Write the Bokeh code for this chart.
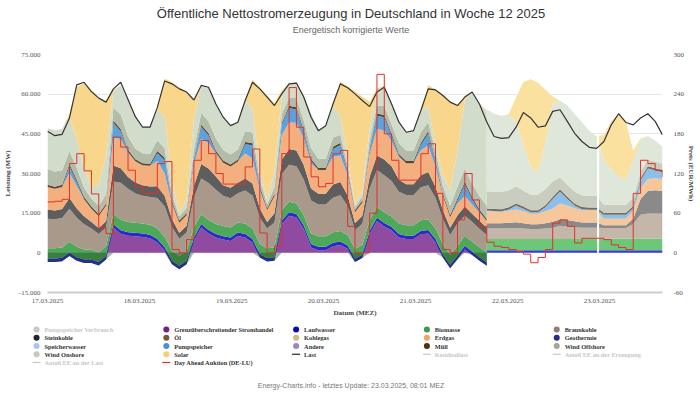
import numpy as np
from bokeh.plotting import figure
from bokeh.models import Range1d, FixedTicker
from bokeh.embed import file_html
from bokeh.resources import INLINE
from bokeh.core.properties import value

# ---------------- data (MW) ----------------
hours_actual = list(range(0, 121, 2))      # 17.03 00:00 .. 22.03 00:00
hours_forecast = list(range(120, 169, 2))  # 22.03 00:00 .. 24.03 00:00
hours_all = list(range(0, 169, 2))

trade = [-3500, -3500, -3200, -1200, -3000, -3800, -3800, -4800, -2500, 9500, 7200, 6500,
         6300, 6000, 5500, 3900, 800, -4300, -6200, -4300, 4500, 9600, 7300, 5800,
         5000, 4500, 6400, 5800, 3900, -1800, -3300, -3000, 10900, 14000, 13400, 9000,
         2000, 1000, 1000, 2500, 3000, 1500, -3500, -2000, 7000, 12000, 10000, 8500,
         5800, 5200, 5200, 7000, 7300, 3900, -1800, -5800, -2400, 1400, -800, -3000,
         -4900]
laufwasser = [1300, 1300, 1300, 1300, 1300, 1300, 1300, 1300, 1300, 1300, 1300, 1300,
              1300, 1300, 1300, 1300, 1300, 1300, 1300, 1300, 1300, 1300, 1300, 1300,
              1300, 1300, 1300, 1300, 1300, 1300, 1300, 1300, 1300, 1300, 1300, 1300,
              1300, 1300, 1300, 1300, 1300, 1300, 1300, 1300, 1300, 1300, 1300, 1300,
              1300, 1300, 1300, 1300, 1300, 1300, 1300, 1300, 1300, 1300, 1300, 1300,
              1300]
biomasse = [3900, 3900, 3900, 4100, 4000, 3800, 3700, 3600, 3800, 4000, 4000, 3900,
            3800, 3800, 3800, 4000, 4000, 3800, 3700, 3700, 4000, 3700, 3800, 3800,
            3800, 3800, 3800, 4000, 4000, 3800, 3700, 3700, 4000, 4000, 4000, 3900,
            4000, 4000, 4000, 4000, 4000, 3900, 3700, 3700, 4000, 4000, 4000, 3900,
            4000, 3900, 3900, 4000, 4000, 4000, 3800, 3700, 3800, 3800, 3800, 3800,
            3800]
braunkohle = [11200, 11000, 11200, 12500, 11000, 9500, 8000, 7000, 7000, 12200, 14000, 12500,
              11000, 10500, 10500, 11500, 11500, 9000, 6500, 7000, 11000, 13500, 14000, 13000,
              11500, 11000, 11000, 12500, 12500, 10000, 7500, 9500, 13500, 14000, 14000, 13500,
              12500, 12000, 12000, 13000, 13500, 11000, 7000, 8000, 12000, 14000, 14000, 13500,
              12000, 11500, 11500, 12500, 13000, 11500, 9500, 7500, 8500, 7500, 7500, 7000,
              6500]
steinkohle = [3500, 3300, 3400, 4000, 3500, 3000, 2500, 2300, 2300, 6000, 5500, 4500,
              4200, 4000, 4000, 4500, 4000, 3000, 2300, 2500, 4500, 5500, 5500, 5000,
              4000, 4000, 4000, 4500, 4500, 3500, 2500, 3500, 5500, 6000, 6000, 5500,
              4500, 4000, 4000, 5000, 5000, 4000, 2800, 3000, 4500, 5500, 6000, 5500,
              4500, 4000, 4000, 4500, 5000, 4300, 3300, 2800, 3000, 3500, 3000, 3000,
              2800]
erdgas = [8500, 8200, 8300, 9500, 8500, 6500, 5000, 4500, 6000, 10400, 11000, 9000,
          8000, 7500, 7800, 9500, 8500, 5500, 3800, 4000, 8000, 9500, 9500, 8500,
          8500, 8000, 8000, 9500, 9500, 6500, 4500, 6500, 9500, 10000, 10500, 10000,
          9500, 9000, 9000, 10500, 10000, 7500, 4000, 5000, 8500, 10000, 11000, 9500,
          8500, 8000, 8000, 9500, 10000, 7500, 5500, 4000, 4500, 4000, 3500, 3000,
          2500]
pumpspeicher = [0, 0, 0, 2500, 1500, 0, 0, 0, 0, 5800, 3000, 500,
                0, 0, 0, 3000, 5000, 500, 0, 0, 1500, 4500, 3000, 500,
                0, 0, 0, 3500, 5000, 1000, 0, 0, 3500, 5500, 5000, 2500,
                1000, 0, 0, 3000, 4000, 1000, 0, 0, 1500, 5000, 5000, 2000,
                500, 0, 0, 2000, 4500, 2000, 0, 0, 1000, 4500, 2000, 500,
                0]
muell = [800, 800, 800, 850, 850, 800, 800, 800, 800, 850, 850, 800,
         800, 800, 800, 850, 850, 800, 800, 800, 800, 850, 850, 800,
         800, 800, 800, 850, 850, 800, 800, 800, 800, 850, 850, 800,
         800, 800, 800, 850, 850, 800, 800, 800, 800, 850, 850, 800,
         800, 800, 800, 850, 850, 800, 800, 800, 800, 850, 850, 800,
         800]
wind_offshore = [6000, 5800, 5500, 5000, 4500, 3500, 3000, 3000, 3500, 4900, 5500, 5000,
                 4000, 3800, 3800, 4000, 3500, 2500, 1500, 2000, 3500, 4500, 4500, 4500,
                 4000, 3800, 3800, 4000, 4000, 2500, 1500, 2500, 3500, 3000, 3500, 3500,
                 4000, 3500, 3500, 3500, 3000, 2000, 1200, 1500, 3000, 3000, 3500, 3500,
                 4000, 4000, 4000, 4000, 3500, 3000, 3000, 3500, 4500, 5000, 5000, 5000,
                 5000]
wind_onshore = [15400, 15600, 15600, 13000, 10500, 8000, 4500, 8000, 14000, 6300, 11000, 13800,
                12500, 10000, 10500, 11500, 12000, 5000, 1500, 3000, 11500, 10000, 13000, 13000,
                12500, 11000, 10300, 11500, 9000, 4000, 1500, 6000, 7000, 5500, 6000, 9500,
                13000, 11000, 12500, 12000, 7000, 3500, 1000, 2000, 4500, 5500, 7500, 8000,
                8500, 7000, 7500, 8000, 6000, 2500, 4000, 6000, 14000, 26000, 34500, 35000,
                36000]
solar = [0, 0, 0, 1000, 20000, 31500, 36000, 32500, 21000, 500, 0, 0,
         0, 0, 0, 500, 14500, 37400, 47300, 41000, 7000, 0, 0, 0,
         0, 0, 0, 500, 11000, 30900, 39500, 25700, 2000, 0, 0, 0,
         0, 0, 0, 1500, 13000, 26500, 42700, 35700, 10000, 1000, 0, 0,
         0, 0, 0, 500, 8000, 21000, 30500, 33500, 17000, 1000, 0, 0,
         0]

# forecast part (22.03 / 23.03)
laufwasser_fc = [1000, 1000, 1000, 1000, 1000, 1000, 1000, 1000, 1000, 1000, 1000, 1000, 1000,
                 1000, 1000, 1000, 1000, 1000, 1000, 1000, 1000, 1000, 1000, 1000, 1000]
biomasse_fc = [4200, 4200, 4200, 4200, 4200, 4200, 4200, 4200, 4200, 4200, 4200, 4200, 4200,
               4200, 4200, 4200, 4400, 4400, 4400, 4400, 4400, 4400, 4400, 4400, 4400]
braunkohle_fc = [4000, 4000, 4000, 4100, 4200, 4000, 3800, 3800, 4000, 4300, 5000, 4800, 4500,
                 4300, 4300, 4300, 4000, 4000, 4000, 4000, 5500, 9000, 9500, 9500, 9500]
steinkohle_fc = [2000, 2000, 2000, 2100, 2200, 2000, 1800, 1800, 2000, 2300, 2500, 2400, 2200,
                 2000, 2000, 2000, 1000, 1000, 1000, 1000, 2000, 6000, 8500, 8800, 8500]
erdgas_fc = [4500, 4300, 4200, 4500, 4800, 4500, 4000, 4000, 4500, 5000, 6000, 5500, 5000,
             4500, 4500, 4500, 2500, 2500, 2500, 2500, 3000, 4000, 4500, 4500, 4500]
pumpspeicher_fc = [300, 300, 300, 500, 1500, 1000, 500, 500, 1500, 3500, 4500, 2500, 1000,
                   500, 300, 300, 1500, 1500, 1500, 1500, 1000, 3000, 4000, 3000, 2500]
muell_fc = [800, 800, 800, 800, 800, 800, 800, 800, 800, 800, 800, 800, 800,
            800, 800, 800, 800, 800, 800, 800, 800, 800, 800, 800, 800]
wind_offshore_fc = [6500, 6500, 6500, 6500, 6500, 6000, 6000, 6000, 6000, 6000, 4500, 4500, 4500,
                    4500, 4500, 4500, 3000, 3000, 3000, 3000, 3000, 2500, 2500, 2500, 2500]
wind_onshore_fc = [31000, 29500, 28800, 28500, 24500, 17900, 10400, 8500, 17700, 29500, 29000, 30000, 29300,
                   27600, 24600, 22400, 17100, 13300, 10700, 9500, 14000, 12000, 9000, 8000, 6500]
solar_fc = [0, 0, 0, 300, 9000, 23200, 33100, 33700, 20000, 2500, 0, 0, 0,
            0, 0, 0, 9400, 18300, 23400, 22100, 4000, 500, 0, 0, 0]

last = [46000, 44300, 44800, 51000, 63500, 64500, 61000, 58500, 57000, 62000, 64500, 58000,
        51500, 47500, 47500, 55000, 65000, 63900, 62000, 60800, 57800, 63300, 62600, 56300,
        51300, 48100, 49400, 57600, 64500, 62000, 58900, 55700, 60100, 63900, 64200, 58900,
        51300, 46200, 48100, 56300, 63900, 62400, 60100, 57600, 55300, 60800, 62600, 56300,
        49400, 45600, 46200, 53800, 62000, 61600, 59500, 57000, 55700, 58900, 60800, 56300,
        49500,
        44000, 43300, 43600, 47500, 53100, 51000, 47500, 48000, 53500, 54100, 49700, 45200,
        42100, 39900, 39500, 42100, 48400, 52600, 49300, 48400, 51000, 52600, 49700, 44600]

price = [77, 78, 81, 135, 150, 124, 89, 38, 29, 175, 160, 125,
         100, 90, 90, 135, 138, 5, 0, 20, 140, 170, 150, 120,
         104, 104, 104, 130, 157, 30, 0, 10, 150, 250, 190, 145,
         115, 100, 105, 150, 155, 40, 0, 0, 60, 270, 180, 140,
         110, 110, 110, 150, 165, 90, 5, 0, 50, 120, 80, 40,
         16,
         10, 8, 5, 2, -2, -15, -7, 5, 45, 50, 40, 15,
         22, 22, 22, 20, 12, 8, 5, 90, 140, 135, 125, 115]

mw_ticks = [-15000, 0, 15000, 30000, 45000, 60000, 75000]
mw_labels = ["-15.000", "0", "15.000", "30.000", "45.000", "60.000", "75.000"]
price_ticks = [-60, 0, 60, 120, 180, 240, 300]
price_labels = ["-60", "0", "60", "120", "180", "240", "300"]
day_ticks = [0, 25.1, 50.3, 75.4, 100.5, 125.7, 150.8]
day_labels = ["17.03.2025", "18.03.2025", "19.03.2025", "20.03.2025",
              "21.03.2025", "22.03.2025", "23.03.2025"]
forecast_break = 150.4

legend_names = ["Pumpspeicher Verbrauch", "Grenzüberschreitender Stromhandel", "Laufwasser", "Biomasse",
                "Braunkohle", "Steinkohle", "Öl", "Kohlegas", "Erdgas", "Geothermie",
                "Speicherwasser", "Pumpspeicher", "Andere", "Müll", "Wind Offshore",
                "Wind Onshore", "Solar", "Last", "Residuallast", "Anteil EE an der Erzeugung",
                "Anteil EE an der Last", "Day Ahead Auktion (DE-LU)"]
legend_colors = ["#c8c8c8", "#74207e", "#0a0ab4", "#3d9a48", "#8f7f70",
                 "#262626", "#755838", "#d2b77f", "#f2a264", "#2d2a88",
                 "#a9c1f4", "#4c8fd6", "#9a86c4", "#4a3216", "#a2a699",
                 "#c4c9bd", "#f7ce74", "#222222", "#c8c8c8", "#c8c8c8",
                 "#c8c8c8", "#d9322b"]
legend_is_line = [False] * 17 + [True] * 5
legend_hidden = [True] + [False] * 17 + [True, True, True, False]

# ---------------- styles ----------------
actual_colors = ["#2a2ac8", "#4ea85a", "#a8998a", "#5e5e5e", "#f3b07e",
                 "#5aa3df", "#5b4632", "#b3bba9", "#d2dccb", "#f8d68c"]
forecast_colors = ["#3c3cd6", "#6cc878", "#c4b6a8", "#8a8a8a", "#f6c79a",
                   "#8cc0ea", "#7a6a58", "#c8cdc0", "#dfe7da", "#fae1a0"]
SERIF = "Liberation Serif"
SANS = "Liberation Sans"

p = figure(width=700, height=393, x_range=Range1d(0, 168), y_range=Range1d(-15000, 75000),
           toolbar_location=None, output_backend="svg",
           min_border_left=46, min_border_right=38, min_border_top=54, min_border_bottom=101)
p.outline_line_color = None
# page-pixel helper ranges (frame spans x 46..662, y 54..292 of the page)
p.extra_y_ranges = {"price": Range1d(-60, 300), "py": Range1d(292, 54)}
p.extra_x_ranges = {"px": Range1d(46, 662)}

# actual stacked areas: stack starts at the trade value
p.varea(x=hours_actual, y1=np.zeros(len(trade)), y2=np.maximum(np.array(trade, float), 0),
        fill_color="#8e4ba0")
lower = np.array(trade, float)
for vals, col in zip([laufwasser, biomasse, braunkohle, steinkohle, erdgas, pumpspeicher,
                      muell, wind_offshore, wind_onshore, solar], actual_colors):
    upper = lower + np.array(vals, float)
    p.varea(x=hours_actual, y1=lower, y2=upper, fill_color=col)
    lower = upper
p.varea(x=hours_actual, y1=np.minimum(np.array(trade, float), 0), y2=np.zeros(len(trade)),
        fill_color="#1e3a1e", fill_alpha=0.38)

# forecast stacked areas
lower = np.zeros(len(hours_forecast))
for vals, col in zip([laufwasser_fc, biomasse_fc, braunkohle_fc, steinkohle_fc, erdgas_fc,
                      pumpspeicher_fc, muell_fc, wind_offshore_fc, wind_onshore_fc, solar_fc],
                     forecast_colors):
    upper = lower + np.array(vals, float)
    p.varea(x=hours_forecast, y1=lower, y2=upper, fill_color=col)
    lower = upper
gap_top = float(np.interp(forecast_break, hours_forecast, lower))
p.segment(x0=[forecast_break], y0=[0], x1=[forecast_break], y1=[gap_top],
          line_color="white", line_width=2)

p.line(hours_all, last, line_color="#333333", line_width=1.2)
p.step(hours_all, price, mode="after", y_range_name="price", line_color="#e0312a", line_width=1)

# axes
p.xaxis.ticker = FixedTicker(ticks=day_ticks)
p.xaxis.major_label_overrides = dict(zip(day_ticks, day_labels))
p.xaxis.axis_label = "Datum (MEZ)"
p.xaxis.axis_line_color = "#cccccc"
p.xaxis.axis_line_width = 2
p.xaxis.major_label_standoff = 6
p.xaxis.axis_label_standoff = 3

p.yaxis.ticker = FixedTicker(ticks=mw_ticks)
p.yaxis.major_label_overrides = dict(zip(mw_ticks, mw_labels))
p.yaxis.axis_label = "Leistung (MW)"
p.yaxis.axis_line_color = None
p.yaxis.major_label_standoff = 7
p.yaxis.axis_label_standoff = 4

for ax in p.axis:
    ax.major_tick_line_color = None
    ax.minor_tick_line_color = None
    ax.major_tick_out = 0
    ax.major_tick_in = 0
    ax.minor_tick_out = 0
    ax.minor_tick_in = 0
    ax.major_label_text_font = SERIF
    ax.major_label_text_font_size = "7px"
    ax.major_label_text_color = "#555555"
    ax.axis_label_text_font = SERIF
    ax.axis_label_text_font_size = "7px"
    ax.axis_label_text_font_style = "bold"
    ax.axis_label_text_color = "#444444"

p.xgrid.grid_line_color = None
p.ygrid.ticker = FixedTicker(ticks=mw_ticks)
p.ygrid.grid_line_color = "#e6e6e6"

# ---------------- price axis labels (placed through the price scale) ----------------
TXT = dict(x_range_name="px", y_range_name="py", level="overlay")
p.text(x=[673] * len(price_ticks), y=price_ticks, text=price_labels, x_range_name="px",
       y_range_name="price", level="overlay", text_align="left", text_baseline="middle",
       text_font=value(SERIF), text_font_size="7px", text_color="#555555")
p.text(x=[691], y=[173], text=["Preis (EUR/MWh)"], angle=-np.pi / 2,
       text_align="center", text_baseline="middle", text_font=value(SERIF),
       text_font_size="7px", text_font_style="bold", text_color="#444444", **TXT)

# ---------------- title, legend, footer (page-pixel positions, drawn above the frame clip) ----------------
p.text(x=[350], y=[13], text=["Öffentliche Nettostromerzeugung in Deutschland in Woche 12 2025"],
       text_align="center", text_baseline="middle", text_font=value(SANS),
       text_font_size="13px", text_color="#333333", **TXT)
p.text(x=[350], y=[29], text=["Energetisch korrigierte Werte"],
       text_align="center", text_baseline="middle", text_font=value(SANS),
       text_font_size="9px", text_color="#666666", **TXT)

col_x = [35, 165, 295, 426, 556]
row_y0, row_dy = 329, 8.25
cx, cy, ccol, lx0, lx1, ly, lcol = [], [], [], [], [], [], []
tx, ty, tt, tcol = [], [], [], []
for i, name in enumerate(legend_names):
    x = col_x[i % 5]
    y = row_y0 + (i // 5) * row_dy
    if legend_is_line[i]:
        lx0.append(x - 4); lx1.append(x + 4); ly.append(y); lcol.append(legend_colors[i])
    else:
        cx.append(x); cy.append(y); ccol.append(legend_colors[i])
    tx.append(x + 8); ty.append(y); tt.append(name)
    tcol.append("#c8c8c8" if legend_hidden[i] else "#333333")
# round-capped very short strokes give the legend dots
p.segment(x0=cx, y0=cy, x1=[v + 0.05 for v in cx], y1=cy, line_color=ccol,
          line_width=6, line_cap="round", **TXT)
p.segment(x0=lx0, y0=ly, x1=lx1, y1=ly, line_color=lcol, line_width=1.2, **TXT)
p.text(x=tx, y=ty, text=tt, text_color=tcol, text_font=value(SERIF), text_font_size="6.3px",
       text_font_style="bold", text_baseline="middle", text_align="left", **TXT)
p.text(x=[350], y=[385], text=["Energy-Charts.info - letztes Update: 23.03.2025, 08:01 MEZ"],
       text_align="center", text_baseline="middle", text_font=value(SANS),
       text_font_size="7px", text_color="#777777", **TXT)

open("out.html", "w").write(file_html(p, INLINE))
